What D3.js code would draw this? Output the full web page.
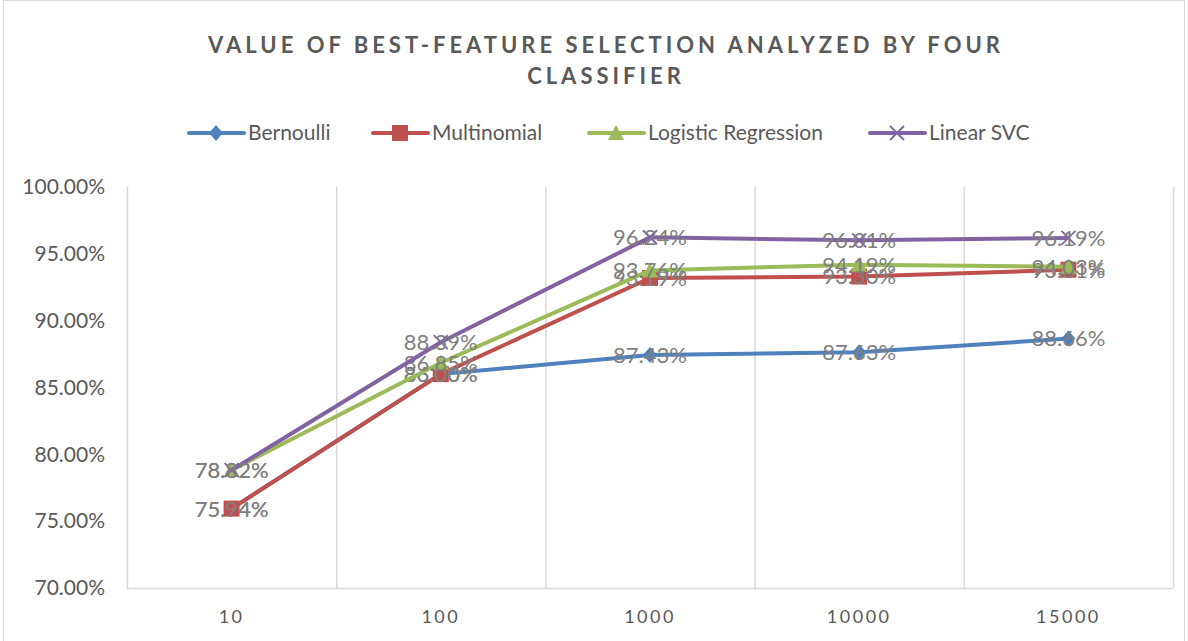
<!DOCTYPE html>
<html>
<head>
<meta charset="utf-8">
<script src="https://cdn.jsdelivr.net/npm/d3@7"></script>
<style>
  body { margin: 0; background: #fff; }
  svg { display: block; font-family: Lato, "Open Sans", sans-serif; }
</style>
</head>
<body>
<svg id="chart" width="1188" height="641"></svg>
<script>
// categories and series values (fractions)
var categories = ["10", "100", "1000", "10000", "15000"];
var bernoulli = [0.7594, 0.8600, 0.8743, 0.8763, 0.8866];
var multinomial = [0.7594, 0.8600, 0.9319, 0.9330, 0.9381];
var logistic = [0.7882, 0.8685, 0.9376, 0.9419, 0.9403];
var linearSvc = [0.7882, 0.8839, 0.9624, 0.9601, 0.9619];
var yTicks = [0.70, 0.75, 0.80, 0.85, 0.90, 0.95, 1.00];
var seriesNames = ["Bernoulli", "Multinomial", "Logistic Regression", "Linear SVC"];

var colours = ["#4f81bd", "#c0504d", "#9bbb59", "#8064a2"];
var symbols = ["diamond", "square", "triangle", "cross"];

var series = [bernoulli, multinomial, logistic, linearSvc].map(function (vals, i) {
	return { name: seriesNames[i], values: vals, colour: colours[i], symbol: symbols[i] };
});

var svg = d3.select("#chart");

// outer chart border
svg.append("rect")
	.attr("x", 3.5).attr("y", 0.5)
	.attr("width", 1181).attr("height", 645)
	.attr("fill", "none")
	.attr("stroke", "#d9d9d9");

var plot = { left: 127, right: 1173, top: 187, bottom: 588 };

var x = d3.scaleBand()
	.domain(categories)
	.range([plot.left, plot.right]);

var y = d3.scaleLinear()
	.domain([0.70, 1.00])
	.range([plot.bottom, plot.top]);

// vertical gridlines at category boundaries
var bounds = categories.map(function (c) { return x(c); }).concat([plot.right]);
svg.append("g").selectAll("line")
	.data(bounds)
	.enter()
  .append("line")
	.attr("x1", function (d) { return d + 0.5; })
	.attr("x2", function (d) { return d + 0.5; })
	.attr("y1", plot.top)
	.attr("y2", plot.bottom)
	.attr("stroke", "#d9d9d9")
	.attr("stroke-width", 1.5);

// x axis line
svg.append("line")
	.attr("x1", plot.left).attr("x2", plot.right)
	.attr("y1", plot.bottom + 0.5).attr("y2", plot.bottom + 0.5)
	.attr("stroke", "#d9d9d9")
	.attr("stroke-width", 1.5);

// y axis labels
var yAxis = d3.axisLeft(y)
	.tickValues(yTicks)
	.tickSize(0)
	.tickPadding(0)
	.tickFormat(d3.format(".2%"));

svg.append("g")
	.attr("transform", "translate(105,0)")
	.call(yAxis)
	.call(function (g) { g.select(".domain").remove(); })
	.selectAll("text")
	.attr("font-size", 21)
	.attr("font-family", "Lato, sans-serif")
	.attr("fill", "#595959");

// x axis labels
var xAxis = d3.axisBottom(x).tickSize(0).tickPadding(0);
svg.append("g")
	.attr("transform", "translate(0,610)")
	.call(xAxis)
	.call(function (g) { g.select(".domain").remove(); })
	.selectAll("text")
	.attr("font-size", 18)
	.attr("letter-spacing", "2.5px")
	.attr("font-family", "Lato, sans-serif")
	.attr("fill", "#595959");

// title
var title = svg.append("text")
	.attr("text-anchor", "middle")
	.attr("font-size", 22)
	.attr("font-weight", "bold")
	.attr("letter-spacing", "4px")
	.attr("fill", "#595959");
title.append("tspan").attr("x", 606).attr("y", 53).text("VALUE OF BEST-FEATURE SELECTION ANALYZED BY FOUR");
title.append("tspan").attr("x", 606).attr("y", 84).text("CLASSIFIER");

function drawMarker(sel, s) {
	if (s.symbol === "cross") {
		sel.append("path")
			.attr("d", "M-7,-7L7,7M-7,7L7,-7")
			.attr("stroke", s.colour)
			.attr("stroke-width", 1.8)
			.attr("fill", "none");
	} else if (s.symbol === "diamond") {
		sel.append("path")
			.attr("d", "M0,-8L7,0L0,8L-7,0Z")
			.attr("fill", s.colour);
	} else if (s.symbol === "square") {
		sel.append("path")
			.attr("d", "M-8,-8H8V8H-8Z")
			.attr("fill", s.colour);
	} else {
		sel.append("path")
			.attr("d", "M0,-8L8,7H-8Z")
			.attr("fill", s.colour);
	}
}

var line = d3.line()
	.x(function (d, i) { return x(categories[i]) + x.bandwidth() / 2; })
	.y(function (d) { return y(d); });

var g = svg.append("g").selectAll("g.series")
	.data(series)
	.enter()
  .append("g")
	.attr("class", "series");

g.append("path")
	.attr("d", function (d) { return line(d.values); })
	.attr("fill", "none")
	.attr("stroke", function (d) { return d.colour; })
	.attr("stroke-width", 4)
	.attr("stroke-linejoin", "round");

g.each(function (s) {
	var grp = d3.select(this);
	s.values.forEach(function (v, i) {
		var m = grp.append("g")
			.attr("transform", "translate(" + (x(categories[i]) + x.bandwidth() / 2) + "," + y(v) + ")");
		drawMarker(m, s);
	});
});

// data labels, centered on points
g.each(function (s) {
	d3.select(this).selectAll("text.lbl")
		.data(s.values)
		.enter()
	  .append("text")
		.attr("class", "lbl")
		.attr("x", function (d, i) { return x(categories[i]) + x.bandwidth() / 2; })
		.attr("y", function (d) { return y(d); })
		.attr("dy", "0.36em")
		.attr("text-anchor", "middle")
		.attr("font-size", 22)
		.attr("fill", "#7f7f7f")
		.text(function (d) { return d3.format(".2%")(d); });
});

// legend
var legendX = [189, 373, 589, 870];
var legend = svg.append("g").selectAll("g")
	.data(series)
	.enter()
  .append("g")
	.attr("transform", function (d, i) { return "translate(" + legendX[i] + ",133)"; });

legend.append("line")
	.attr("x1", 0).attr("x2", 55)
	.attr("stroke", function (d) { return d.colour; })
	.attr("stroke-width", 4)
	.attr("stroke-linecap", "round");

legend.each(function (s) {
	var m = d3.select(this).append("g").attr("transform", "translate(27,0)");
	drawMarker(m, s);
});

legend.append("text")
	.attr("x", 59)
	.attr("dy", "0.35em")
	.attr("font-size", 21)
	.attr("fill", "#595959")
	.text(function (d) { return d.name; });
</script>
</body>
</html>
